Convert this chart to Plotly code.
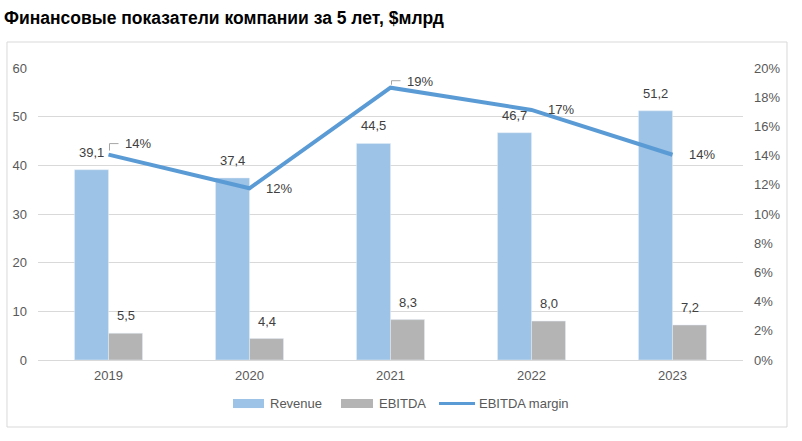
import plotly.graph_objects as go

years = ["2019", "2020", "2021", "2022", "2023"]
revenue = [39.1, 37.4, 44.5, 46.7, 51.2]
ebitda = [5.5, 4.4, 8.3, 8.0, 7.2]
margin = [0.1407, 0.1176, 0.1865, 0.1713, 0.1406]
left_ticks = [0, 10, 20, 30, 40, 50, 60]
right_ticks = [0, 0.02, 0.04, 0.06, 0.08, 0.10, 0.12, 0.14, 0.16, 0.18, 0.20]

title_text = "Финансовые показатели компании за 5 лет, $млрд"
names = ["Revenue", "EBITDA", "EBITDA margin"]

C_REV = "#9DC3E6"
C_EB = "#B4B4B4"
C_LINE = "#5B9BD5"
TXT = "#404040"
TICK = "#595959"
FONT = "Liberation Sans"

def fmt(v):
    return f"{v:.1f}".replace(".", ",")

fig = go.Figure()
fig.add_trace(go.Bar(x=years, y=revenue, name=names[0], marker_color=C_REV,
                     showlegend=False, hoverinfo="skip"))
fig.add_trace(go.Bar(x=years, y=ebitda, name=names[1], marker_color=C_EB,
                     showlegend=False, hoverinfo="skip"))
fig.add_trace(go.Scatter(x=years, y=margin, name=names[2], yaxis="y2", mode="lines",
                         line=dict(color=C_LINE, width=4), showlegend=False,
                         hoverinfo="skip"))

ann = []
shapes = []
for i, y in enumerate(years):
    ann.append(dict(x=i, y=revenue[i], xref="x", yref="y", text=fmt(revenue[i]),
                    showarrow=False, xshift=-17, yshift=8, yanchor="bottom",
                    font=dict(family=FONT, size=13, color=TXT)))
    ann.append(dict(x=i, y=ebitda[i], xref="x", yref="y", text=fmt(ebitda[i]),
                    showarrow=False, xshift=17, yshift=8, yanchor="bottom",
                    font=dict(family=FONT, size=13, color=TXT)))
    ys = 0
    if i == 0:
        ys = 11
    elif i == 2:
        ys = 6
    ann.append(dict(x=i, y=margin[i], xref="x", yref="y2", text=f"{round(margin[i]*100):.0f}%",
                    showarrow=False, xshift=14, yshift=ys, xanchor="left", yanchor="middle",
                    font=dict(family=FONT, size=13, color=TXT)))

# leader lines
shapes.append(dict(type="path", xref="x", yref="y2", xsizemode="pixel", ysizemode="pixel",
                   xanchor=0, yanchor=margin[0], path="M 1,4 L 1,11 L 10,11",
                   line=dict(color="#A6A6A6", width=1)))
shapes.append(dict(type="path", xref="x", yref="y2", xsizemode="pixel", ysizemode="pixel",
                   xanchor=2, yanchor=margin[2], path="M 1,3 L 1,7 L 10,7",
                   line=dict(color="#A6A6A6", width=1)))

# chart border
shapes.append(dict(type="rect", xref="paper", yref="paper", x0=-0.044, x1=1.0624,
                   y0=-0.2295, y1=1.089, line=dict(color="#D9D9D9", width=1), layer="below"))

# custom legend
ly = -0.149
shapes.append(dict(type="rect", xref="paper", yref="paper", x0=0.2766, x1=0.3206,
                   y0=ly - 0.0155, y1=ly + 0.0155, fillcolor=C_REV, line=dict(width=0)))
shapes.append(dict(type="rect", xref="paper", yref="paper", x0=0.4298, x1=0.4752,
                   y0=ly - 0.0155, y1=ly + 0.0155, fillcolor=C_EB, line=dict(width=0)))
shapes.append(dict(type="line", xref="paper", yref="paper", x0=0.5688, x1=0.6199,
                   y0=ly, y1=ly, line=dict(color=C_LINE, width=3)))
for xx, t in [(0.3262, names[0]), (0.4809, names[1]), (0.6227, names[2])]:
    ann.append(dict(x=xx, y=ly, xref="paper", yref="paper", text=t, showarrow=False,
                    xanchor="left", yanchor="middle",
                    font=dict(family=FONT, size=13, color=TICK)))

fig.update_layout(
    width=802, height=441,
    margin=dict(l=38, r=59, t=68, b=81),
    paper_bgcolor="white", plot_bgcolor="white",
    barmode="group", bargap=0.518, bargroupgap=0,
    title=dict(text=title_text, xref="container", yref="container", x=4/802,
               y=1-18/441, xanchor="left", yanchor="middle",
               font=dict(family="Liberation Sans", size=17.5, color="#000000", weight="bold")),
    font=dict(family=FONT, size=13, color=TICK),
    xaxis=dict(type="category", categoryorder="array", categoryarray=years,
               range=[-0.5, 4.5], autorange=False, showgrid=False, showline=False, ticks="",
               tickfont=dict(family=FONT, size=13, color=TICK), ticklabelstandoff=6),
    yaxis=dict(range=[0, 60], tickvals=left_ticks, showgrid=True, gridcolor="#D9D9D9",
               gridwidth=1, zeroline=True, zerolinecolor="#D9D9D9", zerolinewidth=1,
               showline=False, ticks="", ticklabelstandoff=10,
               tickfont=dict(family=FONT, size=13, color=TICK)),
    yaxis2=dict(range=[0, 0.20], tickvals=right_ticks, tickformat=".0%", overlaying="y",
                side="right", showgrid=False, zeroline=False, showline=False, ticks="",
                ticklabelstandoff=10, tickfont=dict(family=FONT, size=13, color=TICK)),
    annotations=ann, shapes=shapes, showlegend=False,
)

fig.write_html("out.html", config={"displayModeBar": False},
               post_script="document.body.style.margin='0';")
